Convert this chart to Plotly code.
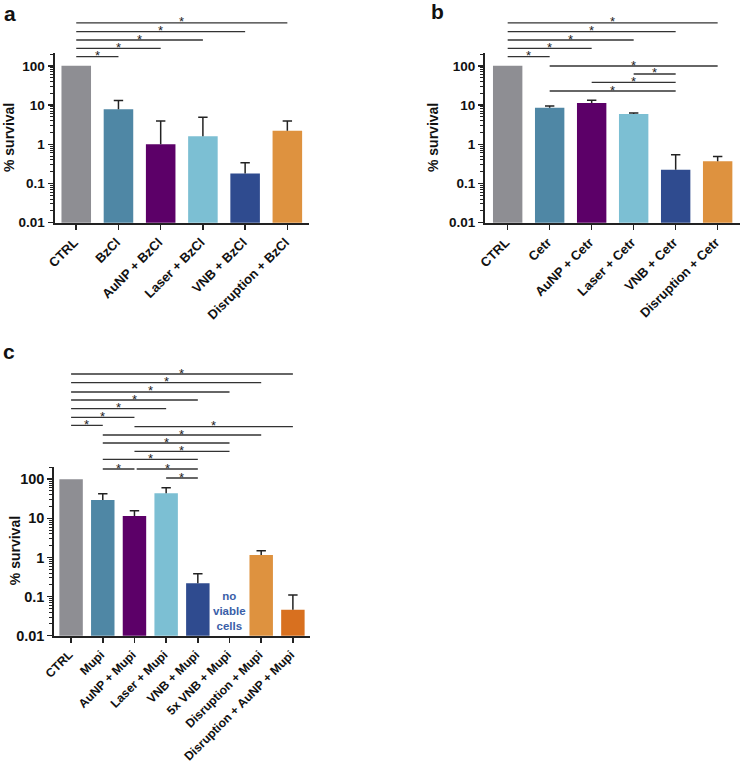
import plotly.graph_objects as go

W, H = 742, 765

# ---------------- data ----------------
cats_a = ["CTRL", "BzCl", "AuNP + BzCl", "Laser + BzCl", "VNB + BzCl", "Disruption + BzCl"]
vals_a = [100, 7.8, 1.0, 1.6, 0.18, 2.2]
upper_a = [None, 13.0, 3.9, 4.9, 0.34, 3.9]
pairs_a = [(0, 1), (0, 2), (0, 3), (0, 4), (0, 5)]

cats_b = ["CTRL", "Cetr", "AuNP + Cetr", "Laser + Cetr", "VNB + Cetr", "Disruption + Cetr"]
vals_b = [100, 8.6, 11.3, 5.9, 0.223, 0.37]
upper_b = [None, 9.5, 13.2, 6.3, 0.54, 0.49]
pairs_b = [(0, 1), (0, 2), (0, 3), (0, 4), (0, 5), (1, 5), (3, 4), (2, 4), (1, 4)]

cats_c = ["CTRL", "Mupi", "AuNP + Mupi", "Laser + Mupi", "VNB + Mupi", "5x VNB + Mupi",
          "Disruption + Mupi", "Disruption + AuNP + Mupi"]
vals_c = [100, 29.4, 11.5, 43.5, 0.219, None, 1.15, 0.046]
upper_c = [None, 42.6, 15.7, 60.7, 0.386, None, 1.48, 0.11]
pairs_c = [(0, 1), (0, 2), (0, 3), (0, 4), (0, 5), (0, 6), (0, 7),
           (2, 7), (1, 6), (1, 5), (2, 5), (1, 4), (1, 2), (2, 4), (3, 4)]

colors_a = ["#8E8E93", "#4F87A5", "#5C0068", "#7CBFD3", "#2F4B8F", "#DE923F"]
colors_b = ["#8E8E93", "#4F87A5", "#5C0068", "#7CBFD3", "#2F4B8F", "#DE923F"]
colors_c = ["#8E8E93", "#4F87A5", "#5C0068", "#7CBFD3", "#2F4B8F", "#FFFFFF", "#DE923F", "#D8701F"]

y_ticks = [0.01, 0.1, 1, 10, 100]
y_ticktext = ["0.01", "0.1", "1", "10", "100"]

# ---------------- layout helpers ----------------
FONT = "Liberation Sans, Arial, sans-serif"
AX = "#222222"


def py(p):
    return 1 - p / H


panels = [
    dict(cats=cats_a, vals=vals_a, upper=upper_a, colors=colors_a, pairs=pairs_a,
         xd=(54.5, 309.3), yd=(53.3, 222.7), xr=(-0.515, 5.52), bw=0.7, xfs=13, yfs=13.5,
         lv=[56.7, 48.3, 40.0, 31.7, 22.9], dx=[0, 0, 0, 0, 0],
         title_x=9, letter="a", letter_xy=(10, 13)),
    dict(cats=cats_b, vals=vals_b, upper=upper_b, colors=colors_b, pairs=pairs_b,
         xd=(485.0, 739.5), yd=(53.3, 222.7), xr=(-0.54, 5.52), bw=0.7, xfs=13, yfs=13.5,
         lv=[56.7, 48.3, 40.0, 31.7, 22.9, 66.0, 74.0, 82.3, 91.0], dx=[0] * 9,
         title_x=433, letter="b", letter_xy=(437, 12)),
    dict(cats=cats_c, vals=vals_c, upper=upper_c, colors=colors_c, pairs=pairs_c,
         xd=(54.3, 310.0), yd=(466.7, 635.7), xr=(-0.53, 7.54), bw=0.74, xfs=12.2, yfs=14.5,
         lv=[425.3, 417.3, 408.7, 400.0, 392.0, 382.7, 374.0,
             426.7, 435.0, 443.0, 451.3, 459.3, 469.0, 469.0, 478.0],
         dx=[0] * 13 + [0.07, 0],
         title_x=15, letter="c", letter_xy=(9, 352)),
]

fig = go.Figure()
shapes = []
annotations = []
minor_vals = [m * 10 ** k for k in range(-2, 3) for m in range(2, 10)]

for i, p in enumerate(panels):
    sfx = "" if i == 0 else str(i + 1)
    xa, ya = "x" + sfx, "y" + sfx
    n = len(p["cats"])
    xs = list(range(n))
    xs_bar = [x for x, v in zip(xs, p["vals"]) if v is not None]
    vs_bar = [v for v in p["vals"] if v is not None]
    cs_bar = [c for c, v in zip(p["colors"], p["vals"]) if v is not None]
    fig.add_trace(go.Bar(
        x=xs_bar, y=vs_bar, marker=dict(color=cs_bar, line=dict(width=0)),
        width=p["bw"], xaxis=xa, yaxis=ya, showlegend=False, hoverinfo="skip"))

    W0, W1 = p["xd"]
    T0, T1 = p["yd"]
    spacing = (W1 - W0) / (p["xr"][1] - p["xr"][0])
    cap = 4.7 / spacing
    ex, ey = [], []
    for x, v, u in zip(xs, p["vals"], p["upper"]):
        if v is None or u is None:
            continue
        ex += [x, x, None, x - cap, x + cap, None]
        ey += [v, u, None, u, u, None]
    fig.add_trace(go.Scatter(x=ex, y=ey, mode="lines", line=dict(color=AX, width=1.5),
                             xaxis=xa, yaxis=ya, showlegend=False, hoverinfo="skip",
                             connectgaps=False))

    fig.update_layout(**{
        "xaxis" + sfx: dict(
            domain=[W0 / W, W1 / W], range=list(p["xr"]), anchor=ya, automargin=False,
            tickvals=xs, ticktext=p["cats"], tickangle=-45, ticklabelshift=-2,
            ticks="outside", ticklen=5, tickwidth=1.5, tickcolor=AX,
            showline=True, linewidth=2, linecolor=AX, showgrid=False, zeroline=False,
            tickfont=dict(family=FONT, size=p["xfs"], color="#111", weight="bold"),
            fixedrange=True),
        "yaxis" + sfx: dict(
            domain=[py(T1), py(T0)], type="log", range=[-2, 2.32], anchor=xa, automargin=False,
            tickvals=y_ticks, ticktext=y_ticktext,
            ticks="outside", ticklen=5, tickwidth=1.5, tickcolor=AX,
            minor=dict(tickvals=minor_vals, ticks="outside", ticklen=3, tickwidth=1, tickcolor=AX),
            showline=True, linewidth=2, linecolor=AX, showgrid=False, zeroline=False,
            tickfont=dict(family=FONT, size=p["yfs"], color="#111", weight="bold"),
            fixedrange=True),
    })

    annotations.append(dict(
        x=p["title_x"] / W, y=py((T0 + T1) / 2), xref="paper", yref="paper",
        text="% survival", textangle=-90, showarrow=False, xanchor="center", yanchor="middle",
        font=dict(family=FONT, size=14, color="#111", weight="bold")))
    annotations.append(dict(
        x=p["letter_xy"][0] / W, y=py(p["letter_xy"][1]), xref="paper", yref="paper",
        text=p["letter"], showarrow=False, xanchor="center", yanchor="middle",
        font=dict(family=FONT, size=21, color="#111", weight="bold")))

    for (a, b), lvl, d in zip(p["pairs"], p["lv"], p["dx"]):
        x0 = a + d
        shapes.append(dict(type="line", xref=xa, yref="paper", x0=x0, x1=b,
                           y0=py(lvl), y1=py(lvl), line=dict(color="#333", width=1.3)))
        annotations.append(dict(x=(x0 + b) / 2, y=py(lvl), xref=xa, yref="paper",
                                text="*", showarrow=False, xanchor="center", yanchor="middle",
                                yshift=1,
                                font=dict(family=FONT, size=13, color="#222")))

annotations.append(dict(
    x=cats_c.index("5x VNB + Mupi"), y=py(611), xref="x3", yref="paper",
    text="no<br>viable<br>cells", showarrow=False, xanchor="center", yanchor="middle",
    font=dict(family=FONT, size=11.5, color="#3A5EA8", weight="bold")))

fig.update_layout(
    template="none",
    width=W, height=H, margin=dict(l=0, r=0, t=0, b=0, autoexpand=False),
    paper_bgcolor="white", plot_bgcolor="white",
    shapes=shapes, annotations=annotations, barmode="overlay", showlegend=False)

fig.write_html("out.html", config={"displayModeBar": False, "staticPlot": True},
               post_script="document.body.style.margin='0';document.body.style.overflow='hidden';")
